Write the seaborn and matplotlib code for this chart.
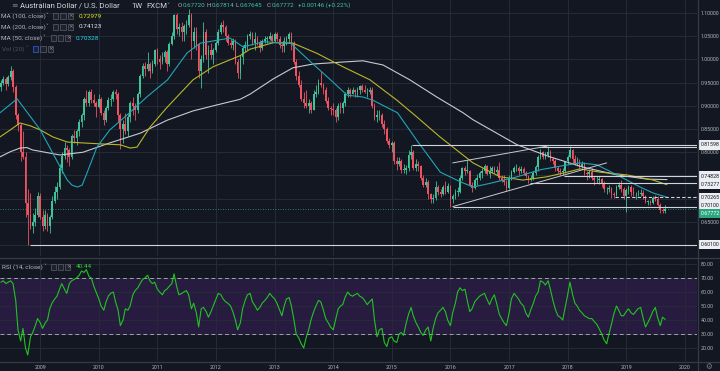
import numpy as np
import pandas as pd
import matplotlib
matplotlib.use("Agg")
import matplotlib.pyplot as plt
import matplotlib.dates as mdates
from matplotlib.patches import Rectangle
from matplotlib.lines import Line2D
from matplotlib.transforms import blended_transform_factory
import seaborn as sns

# ---------------- data (AUD/USD, half-month candles from May 2008) ----------------
first_open = 0.940
close_2008 = [0.950, 0.957, 0.947, 0.962, 0.975, 0.940, 0.880, 0.858, 0.800, 0.790, 0.690, 0.665, 0.640, 0.650, 0.665, 0.705]
high_2008 = [0.956, 0.965, 0.962, 0.966, 0.985, 0.980, 0.944, 0.885, 0.862, 0.845, 0.800, 0.720, 0.712, 0.670, 0.680, 0.715]
low_2008 = [0.932, 0.945, 0.935, 0.942, 0.955, 0.930, 0.872, 0.845, 0.780, 0.785, 0.660, 0.601, 0.635, 0.625, 0.640, 0.660]

close_2009 = [0.660, 0.640, 0.665, 0.640, 0.660, 0.695, 0.715, 0.725, 0.765, 0.792, 0.810, 0.805,
              0.790, 0.835, 0.830, 0.845, 0.865, 0.880, 0.915, 0.905, 0.930, 0.912, 0.905, 0.897]
high_2009 = [0.712, 0.675, 0.675, 0.670, 0.665, 0.705, 0.728, 0.735, 0.775, 0.800, 0.822, 0.815,
             0.810, 0.840, 0.848, 0.850, 0.872, 0.885, 0.920, 0.933, 0.935, 0.937, 0.925, 0.910]
low_2009 = [0.655, 0.630, 0.635, 0.630, 0.625, 0.655, 0.690, 0.700, 0.720, 0.755, 0.785, 0.778,
            0.770, 0.785, 0.820, 0.815, 0.835, 0.855, 0.870, 0.900, 0.900, 0.905, 0.900, 0.876]

close_2010 = [0.915, 0.885, 0.870, 0.895, 0.912, 0.915, 0.930, 0.925, 0.880, 0.850, 0.860, 0.845,
              0.875, 0.905, 0.900, 0.890, 0.925, 0.965, 0.985, 0.980, 0.990, 0.975, 0.990, 1.020]
high_2010 = [0.925, 0.918, 0.890, 0.900, 0.918, 0.925, 0.935, 0.936, 0.930, 0.885, 0.870, 0.885,
             0.882, 0.910, 0.920, 0.905, 0.930, 0.968, 0.993, 0.995, 1.017, 0.995, 0.998, 1.023]
low_2010 = [0.895, 0.880, 0.858, 0.865, 0.890, 0.900, 0.910, 0.915, 0.865, 0.807, 0.820, 0.840,
            0.835, 0.865, 0.880, 0.870, 0.885, 0.920, 0.960, 0.965, 0.975, 0.960, 0.970, 0.985]

close_2011 = [1.000, 0.995, 1.005, 1.015, 0.990, 1.033, 1.050, 1.095, 1.065, 1.070, 1.060, 1.072,
              1.075, 1.095, 1.040, 1.060, 1.030, 0.975, 1.000, 1.060, 1.010, 1.020, 1.010, 1.020]
high_2011 = [1.025, 1.010, 1.015, 1.020, 1.020, 1.037, 1.060, 1.098, 1.101, 1.078, 1.080, 1.077,
             1.085, 1.108, 1.100, 1.070, 1.070, 1.035, 1.010, 1.080, 1.065, 1.030, 1.035, 1.025]
low_2011 = [0.990, 0.980, 0.990, 0.995, 0.975, 0.985, 1.030, 1.045, 1.055, 1.050, 1.040, 1.040,
            1.055, 1.070, 1.000, 1.025, 1.020, 0.960, 0.939, 0.995, 1.000, 0.970, 1.000, 0.990]

close_2012 = [1.035, 1.060, 1.075, 1.070, 1.050, 1.035, 1.030, 1.040, 0.995, 0.970, 1.005, 1.025,
              1.030, 1.050, 1.055, 1.035, 1.045, 1.038, 1.025, 1.040, 1.045, 1.045, 1.050, 1.040]
high_2012 = [1.040, 1.065, 1.080, 1.085, 1.075, 1.055, 1.045, 1.047, 1.045, 1.000, 1.010, 1.030,
             1.040, 1.055, 1.062, 1.060, 1.060, 1.050, 1.042, 1.045, 1.050, 1.050, 1.058, 1.055]
low_2012 = [1.015, 1.030, 1.055, 1.060, 1.040, 1.030, 1.025, 1.020, 0.990, 0.960, 0.958, 0.990,
            1.015, 1.020, 1.045, 1.030, 1.020, 1.030, 1.015, 1.020, 1.035, 1.035, 1.042, 1.035]

close_2013 = [1.055, 1.045, 1.030, 1.028, 1.040, 1.045, 1.055, 1.035, 0.995, 0.965, 0.945, 0.915,
              0.905, 0.900, 0.905, 0.890, 0.925, 0.930, 0.950, 0.945, 0.935, 0.910, 0.895, 0.893]
high_2013 = [1.060, 1.060, 1.050, 1.035, 1.048, 1.050, 1.060, 1.058, 1.040, 1.000, 0.975, 0.955,
             0.930, 0.935, 0.915, 0.910, 0.935, 0.945, 0.958, 0.976, 0.950, 0.940, 0.920, 0.900]
low_2013 = [1.038, 1.040, 1.025, 1.015, 1.015, 1.030, 1.035, 1.020, 0.990, 0.955, 0.940, 0.910,
            0.895, 0.895, 0.885, 0.885, 0.890, 0.920, 0.925, 0.940, 0.925, 0.905, 0.890, 0.880]

close_2014 = [0.890, 0.875, 0.900, 0.895, 0.905, 0.925, 0.935, 0.925, 0.935, 0.930, 0.935, 0.942,
              0.935, 0.930, 0.930, 0.933, 0.900, 0.875, 0.880, 0.880, 0.860, 0.850, 0.825, 0.815]
high_2014 = [0.905, 0.895, 0.905, 0.908, 0.910, 0.930, 0.940, 0.938, 0.940, 0.936, 0.940, 0.945,
             0.948, 0.945, 0.938, 0.940, 0.940, 0.905, 0.890, 0.890, 0.885, 0.870, 0.855, 0.830]
low_2014 = [0.880, 0.866, 0.870, 0.885, 0.885, 0.900, 0.920, 0.920, 0.925, 0.918, 0.920, 0.925,
            0.930, 0.928, 0.920, 0.925, 0.895, 0.870, 0.865, 0.870, 0.855, 0.840, 0.820, 0.810]

close_2015 = [0.820, 0.780, 0.775, 0.782, 0.762, 0.762, 0.765, 0.795, 0.800, 0.765, 0.775, 0.770,
              0.745, 0.730, 0.735, 0.710, 0.700, 0.702, 0.725, 0.714, 0.710, 0.725, 0.715, 0.728]
high_2015 = [0.825, 0.825, 0.790, 0.790, 0.785, 0.775, 0.772, 0.805, 0.816, 0.805, 0.785, 0.780,
             0.772, 0.750, 0.745, 0.740, 0.712, 0.710, 0.738, 0.730, 0.720, 0.730, 0.738, 0.733]
low_2015 = [0.800, 0.775, 0.762, 0.770, 0.755, 0.756, 0.753, 0.760, 0.785, 0.762, 0.760, 0.760,
            0.740, 0.725, 0.725, 0.700, 0.690, 0.690, 0.698, 0.708, 0.703, 0.708, 0.710, 0.712]

close_2016 = [0.700, 0.705, 0.715, 0.715, 0.745, 0.765, 0.760, 0.760, 0.730, 0.723, 0.740, 0.745,
              0.755, 0.760, 0.770, 0.752, 0.760, 0.765, 0.758, 0.762, 0.745, 0.740, 0.735, 0.722]
high_2016 = [0.730, 0.710, 0.720, 0.725, 0.750, 0.768, 0.770, 0.783, 0.762, 0.735, 0.745, 0.752,
             0.760, 0.765, 0.775, 0.772, 0.770, 0.770, 0.770, 0.770, 0.778, 0.750, 0.750, 0.740]
low_2016 = [0.683, 0.690, 0.700, 0.705, 0.712, 0.740, 0.750, 0.755, 0.728, 0.715, 0.720, 0.730,
            0.740, 0.745, 0.755, 0.750, 0.745, 0.755, 0.755, 0.750, 0.740, 0.735, 0.730, 0.716]

close_2017 = [0.745, 0.758, 0.765, 0.765, 0.760, 0.763, 0.755, 0.748, 0.740, 0.745, 0.755, 0.768,
              0.790, 0.800, 0.790, 0.795, 0.800, 0.785, 0.780, 0.765, 0.760, 0.757, 0.760, 0.780]
high_2017 = [0.750, 0.762, 0.770, 0.775, 0.770, 0.770, 0.768, 0.760, 0.750, 0.750, 0.760, 0.772,
             0.795, 0.806, 0.802, 0.800, 0.813, 0.805, 0.790, 0.785, 0.770, 0.765, 0.765, 0.782]
low_2017 = [0.720, 0.740, 0.755, 0.760, 0.750, 0.755, 0.750, 0.745, 0.733, 0.738, 0.740, 0.750,
            0.760, 0.785, 0.785, 0.785, 0.790, 0.780, 0.775, 0.760, 0.755, 0.750, 0.750, 0.755]

close_2018 = [0.790, 0.805, 0.785, 0.775, 0.775, 0.768, 0.775, 0.755, 0.753, 0.757, 0.745, 0.740,
              0.740, 0.742, 0.732, 0.720, 0.720, 0.722, 0.710, 0.708, 0.725, 0.730, 0.720, 0.705]
high_2018 = [0.795, 0.814, 0.808, 0.795, 0.790, 0.785, 0.780, 0.778, 0.760, 0.762, 0.765, 0.748,
             0.748, 0.748, 0.745, 0.738, 0.725, 0.730, 0.725, 0.715, 0.730, 0.735, 0.740, 0.725]
low_2018 = [0.775, 0.788, 0.775, 0.772, 0.770, 0.764, 0.765, 0.750, 0.741, 0.745, 0.740, 0.730,
            0.733, 0.732, 0.725, 0.715, 0.710, 0.715, 0.702, 0.702, 0.705, 0.720, 0.715, 0.700]

close_2019 = [0.718, 0.726, 0.715, 0.710, 0.710, 0.710, 0.713, 0.705, 0.692, 0.694, 0.690, 0.702,
              0.700, 0.687, 0.675, 0.673, 0.6777]
high_2019 = [0.722, 0.730, 0.730, 0.725, 0.715, 0.718, 0.720, 0.718, 0.708, 0.698, 0.698, 0.705,
             0.708, 0.705, 0.690, 0.680, 0.686]
low_2019 = [0.671, 0.710, 0.705, 0.705, 0.700, 0.705, 0.705, 0.700, 0.690, 0.686, 0.686, 0.688,
            0.695, 0.685, 0.668, 0.668, 0.670]

rsi_values = [
    67, 68, 66, 67, 68, 66, 54, 33, 25, 34, 20, 15,
    28, 31, 36, 41, 38, 34, 38, 40, 48, 52, 55, 57,
    62, 66, 62, 59, 66, 68, 69, 70, 72, 75, 74, 76,
    71, 70, 64, 60, 55, 50, 47, 53, 57, 59, 60, 53,
    47, 36, 40, 48, 47, 50, 58, 61, 63, 66, 69, 70,
    72, 68, 66, 67, 62, 60, 58, 61, 62, 64, 66, 73,
    64, 58, 59, 60, 61, 58, 48, 52, 45, 35, 48, 49,
    46, 42, 46, 50, 55, 59, 58, 55, 53, 52, 50, 46,
    40, 33, 38, 48, 54, 58, 59, 53, 50, 47, 49, 52,
    54, 56, 59, 57, 55, 52, 47, 43, 50, 55, 56, 50,
    40, 30, 27, 23, 20, 27, 33, 40, 46, 50, 54, 53,
    47, 41, 38, 35, 33, 40, 48, 50, 51, 56, 60, 58,
    57, 58, 59, 57, 56, 54, 51, 53, 55, 40, 28, 33,
    34, 24, 21, 27, 28, 25, 24, 30, 31, 29, 38, 44,
    49, 43, 38, 35, 31, 29, 33, 35, 25, 34, 41, 45,
    47, 49, 46, 40, 36, 45, 52, 60, 63, 61, 62, 54,
    46, 48, 53, 55, 57, 58, 59, 55, 51, 55, 58, 52,
    44, 41, 38, 36, 45, 55, 59, 57, 55, 52, 50, 45,
    42, 47, 52, 57, 60, 68, 67, 65, 68, 62, 54, 48,
    43, 42, 40, 48, 58, 67, 58, 52, 50, 47, 45, 43,
    42, 41, 41, 39, 37, 34, 30, 26, 23, 30, 37, 44,
    50, 47, 43, 43, 46, 48, 45, 44, 46, 48, 49, 42,
    35, 38, 42, 46, 49, 42, 36, 42, 40.44]

# moving averages
ma50_dates = ['2008-04-25', '2008-08-10', '2009-01-01', '2009-06-18', '2009-07-18', '2009-08-20',
              '2009-09-19', '2009-10-19', '2009-12-20',
              '2010-03-10', '2010-06-25', '2010-10-30', '2011-03-05', '2011-07-05', '2011-09-25',
              '2012-03-28', '2012-06-18', '2012-10-25', '2013-04-10', '2013-08-28', '2013-12-15',
              '2014-03-28', '2014-07-05', '2014-09-05', '2015-02-05', '2015-06-05', '2015-10-30',
              '2016-03-05', '2016-05-22', '2016-09-05', '2017-02-20', '2017-07-12', '2017-11-15',
              '2018-03-18', '2018-07-01', '2018-11-05', '2019-03-28', '2019-06-18', '2019-09-12']
ma50_values = [0.885, 0.915, 0.848, 0.740, 0.729, 0.725, 0.729, 0.755, 0.811,
               0.848, 0.880, 0.920, 0.956, 1.014, 1.035,
               1.046, 1.027, 1.038, 1.035, 0.990, 0.956, 0.923, 0.919, 0.912, 0.885, 0.826, 0.757,
               0.736, 0.725, 0.733, 0.747, 0.762, 0.770, 0.777, 0.773, 0.751, 0.725, 0.712, 0.703]

ma100_dates = ['2008-04-25', '2008-06-28', '2008-08-28', '2008-10-30', '2009-01-01', '2009-03-20',
               '2009-06-18', '2009-09-25', '2010-01-08', '2010-05-14',
               '2010-07-15', '2010-08-27', '2010-11-16', '2011-03-03', '2011-08-11', '2011-12-13',
               '2012-05-30', '2012-07-31', '2012-12-23', '2013-04-25', '2013-09-22', '2014-03-03',
               '2014-08-18', '2015-02-02', '2015-06-06', '2015-10-28', '2016-05-21', '2016-11-05',
               '2017-03-28', '2017-08-24', '2017-12-28', '2018-03-18', '2018-07-22', '2019-01-07',
               '2019-06-17', '2019-09-12']
ma100_values = [0.833, 0.848, 0.863, 0.857, 0.848, 0.833, 0.822, 0.820, 0.818, 0.816,
                0.809, 0.811, 0.854, 0.897, 0.956, 0.984,
                1.008, 1.022, 1.036, 1.035, 1.013, 0.984, 0.956, 0.912, 0.876, 0.833, 0.777, 0.747,
                0.740, 0.747, 0.757, 0.764, 0.757, 0.751, 0.740, 0.730]

ma200_dates = ['2008-04-25', '2008-06-28', '2008-08-28', '2008-10-10', '2008-11-12', '2009-02-15',
               '2009-05-04', '2009-07-15', '2009-09-25', '2010-03-10',
               '2010-09-16', '2011-03-03', '2011-08-11', '2012-01-08', '2012-05-30', '2012-07-31',
               '2012-12-23', '2013-04-25', '2013-08-28', '2014-02-14', '2014-07-05', '2014-11-07',
               '2015-04-23', '2015-10-08', '2016-03-20', '2016-05-21', '2017-02-20', '2017-09-13',
               '2018-04-06', '2018-11-05', '2019-05-12', '2019-09-12']
ma200_values = [0.790, 0.801, 0.809, 0.810, 0.805, 0.799, 0.794, 0.797, 0.800, 0.820,
                0.841, 0.869, 0.889, 0.902, 0.914, 0.925,
                0.958, 0.982, 0.990, 0.994, 0.997, 0.988, 0.956, 0.919, 0.885, 0.870, 0.816, 0.790,
                0.768, 0.751, 0.742, 0.741]

# drawn levels / trend lines
hline_levels = [0.81598, 0.8105, 0.74828, 0.73277, 0.70265, 0.6827, 0.60100]
hline_starts = ['2015-05-08', '2017-07-01', '2017-12-08', '2017-05-09', '2018-10-26', '2016-01-15', '2008-10-27']
hline_dashed = [False, False, False, False, True, False, False]
trend_lines = [(('2016-01-15', 0.6827), ('2018-09-01', 0.777)),
               (('2016-01-15', 0.777), ('2017-08-25', 0.813))]
axis_label_values = [0.81598, 0.74828, 0.73277, 0.70265, 0.70100, 0.67772, 0.60100]
last_price = 0.67772

ohlc_text = ['0.67720', '0.67814', '0.67645', '0.67772']
ma_legend = [('MA (100, close)', '0.72979'), ('MA (200, close)', '0.74123'), ('MA (50, close)', '0.70328')]
rsi_last = '40.44'
years = list(range(2009, 2021))

# ---------------- style ----------------
BG = '#131722'
GRID = '#262b38'
UP = '#3fc49a'
DN = '#ef5361'
TXT = '#b2b5be'
C50, C100, C200 = '#1fa6b8', '#b9b72a', '#c8cad0'
AXFS = 3.8

sns.set_theme(style='dark', rc={'axes.facecolor': BG, 'figure.facecolor': BG})
plt.rcParams['font.family'] = ['Roboto', 'DejaVu Sans']

W, H = 720, 371
fig = plt.figure(figsize=(W / 100, H / 100), dpi=100, facecolor=BG)


def px_axes(x0, y0, x1, y1):
    return fig.add_axes([x0 / W, 1 - y1 / H, (x1 - x0) / W, (y1 - y0) / H])


ax = px_axes(0, 0, 697, 256)
axr = px_axes(0, 259, 697, 361)

closes = close_2008 + close_2009 + close_2010 + close_2011 + close_2012 + close_2013 + close_2014 + \
    close_2015 + close_2016 + close_2017 + close_2018 + close_2019
highs = high_2008 + high_2009 + high_2010 + high_2011 + high_2012 + high_2013 + high_2014 + \
    high_2015 + high_2016 + high_2017 + high_2018 + high_2019
lows = low_2008 + low_2009 + low_2010 + low_2011 + low_2012 + low_2013 + low_2014 + \
    low_2015 + low_2016 + low_2017 + low_2018 + low_2019
opens = [first_open] + closes[:-1]
dates = pd.date_range('2008-05-01', periods=len(closes), freq='SMS')
df = pd.DataFrame(dict(x=mdates.date2num(dates), open=opens, high=highs, low=lows, close=closes))
df['up'] = df['close'] >= df['open']
cols = np.where(df['up'], UP, DN)

x0 = mdates.date2num(pd.Timestamp('2008-04-25'))
x1 = mdates.date2num(pd.Timestamp('2020-03-17'))
year_x = [mdates.date2num(pd.Timestamp(f'{y}-01-01')) for y in years]

for a in (ax, axr):
    a.set_facecolor(BG)
    a.set_xlim(x0, x1)
    a.set_xticks(year_x)
    for s in a.spines.values():
        s.set_visible(False)
    a.grid(True, color=GRID, lw=0.7)
    a.set_axisbelow(True)
    a.yaxis.tick_right()
    a.tick_params(axis='y', length=0, pad=2.4, labelsize=AXFS, labelcolor=TXT)

# main pane
ax.set_ylim(0.57634, 1.12802)
ticks = list(np.round(np.arange(0.60, 1.1001, 0.05), 2))
ax.set_yticks(ticks)

ax.axhline(last_price, color='#2fa37f', ls=(0, (1, 2)), lw=0.6, zorder=1)

ax.vlines(df['x'], df['low'], df['high'], colors=cols, lw=0.6, zorder=3)
body = (df['close'] - df['open']).abs().clip(lower=0.0008)
ax.bar(df['x'], body, bottom=np.minimum(df['open'], df['close']), width=10.5, color=cols,
       linewidth=0, zorder=4)

for dts, vals, c in ((ma200_dates, ma200_values, C200), (ma100_dates, ma100_values, C100),
                     (ma50_dates, ma50_values, C50)):
    sns.lineplot(x=mdates.date2num(pd.to_datetime(dts)), y=vals, ax=ax, color=c, lw=0.8, zorder=5)

for lvl, st, dsh in zip(hline_levels, hline_starts, hline_dashed):
    ax.hlines(lvl, mdates.date2num(pd.Timestamp(st)), x1, colors='#d1d4dc', lw=0.8,
              linestyles=(0, (3, 2)) if dsh else 'solid', zorder=6)
for (d0, p0), (d1, p1) in trend_lines:
    ax.plot([mdates.date2num(pd.Timestamp(d0)), mdates.date2num(pd.Timestamp(d1))], [p0, p1],
            color='#c8cad0', lw=0.7, zorder=6)
ax.set_xlabel('')
ax.set_ylabel('')
ax.tick_params(axis='x', length=0, labelbottom=False)

# axis label boxes with overlap pushing
trans = blended_transform_factory(ax.transAxes, ax.transData)
ys = [ax.transData.transform((0, v))[1] for v in axis_label_values]
placed = []
for v, y in sorted(zip(axis_label_values, ys), key=lambda t: -t[0]):
    if placed and placed[-1] - y < 8.0:
        y = placed[-1] - 8.0
    placed.append(y)
    yd = ax.transData.inverted().transform((0, y))[1]
    green = abs(v - last_price) < 1e-9
    ax.text(1 + 3.6 / 697, yd, f'{v:.5f}', transform=trans, ha='left', va='center', fontsize=AXFS,
            color='white' if green else '#131722', clip_on=False, zorder=20,
            bbox=dict(boxstyle='square,pad=0.45', fc='#2aa77e' if green else '#eceef2', ec='none'))

# plain tick labels, hidden where a label box sits on them
tick_lbls = []
for t in ticks:
    ty = ax.transData.transform((0, t))[1]
    hidden = any(abs(ty - p) < 6.0 for p in placed)
    tick_lbls.append('' if hidden else f'{t:.5f}')
ax.set_yticklabels(tick_lbls)

# RSI pane
axr.set_ylim(10.71, 83.57)
axr.set_yticks(range(20, 81, 10))
axr.set_yticklabels([f'{v:.2f}' for v in range(20, 81, 10)])
axr.axhspan(30, 70, color='#271b40', zorder=0.5, lw=0)
for lv in (70, 30):
    axr.axhline(lv, color='#a0a3ab', lw=0.7, ls=(0, (4, 3)), zorder=1)
sns.lineplot(x=df['x'], y=rsi_values, ax=axr, color='#22c322', lw=0.8, zorder=5)
axr.set_xticklabels([str(y) for y in years])
axr.tick_params(axis='x', length=0, pad=2.8, labelsize=AXFS, labelcolor=TXT)
axr.set_xlabel('')
axr.set_ylabel('')

# separators
for yy in (257.5, 361.5):
    fig.add_artist(Line2D([0, 1], [1 - yy / H, 1 - yy / H], color='#363a45', lw=0.9))
fig.add_artist(Line2D([697.5 / W, 697.5 / W], [0, 1], color='#363a45', lw=0.9))


# ---------------- header texts ----------------
def ftxt(x, y, s, **kw):
    kw.setdefault('fontsize', 4.6)
    kw.setdefault('color', TXT)
    fig.text(x / W, 1 - y / H, s, va='center', ha='left', **kw)


def icon_boxes(x, y, first_blue=False):
    for i in range(3):
        ec = '#2962ff' if (first_blue and i == 0) else '#5d606b'
        fig.add_artist(Rectangle(((x + i * 7.3) / W, 1 - (y + 2.6) / H), 5.2 / W, 5.2 / H,
                                 transform=fig.transFigure, fc='#1e222d', ec=ec, lw=0.5))
        if i == 2:
            ftxt(x + i * 7.3 + 0.9, y - 0.1, '×', fontsize=4.0, color='#9598a1', family=['DejaVu Sans'])


ftxt(11, 5.5, '≡', fontsize=5.5, color='#787b86', family=['DejaVu Sans'])
ftxt(20, 5.5, 'Australian Dollar / U.S. Dollar', fontsize=5.6, color='#d1d4dc')
ftxt(131, 5.5, '1W', fontsize=5.6, color='#d1d4dc')
ftxt(146, 5.5, 'FXCM', fontsize=5.6, color='#d1d4dc')
ftxt(166, 5.0, '˅', fontsize=4.5, color='#9598a1', family=['DejaVu Sans'])
for xl, xv, lab, val in ((178, 183, 'O', ohlc_text[0]), (207, 212, 'H', ohlc_text[1]),
                         (235, 240, 'L', ohlc_text[2]), (267, 272, 'C', ohlc_text[3])):
    ftxt(xl, 5.5, lab, fontsize=4.5, color=TXT)
    ftxt(xv, 5.5, val, fontsize=4.5, color='#3fc49a')
ftxt(298, 5.5, '+0.00146 (+0.22%)', fontsize=4.5, color='#3fc49a')

ma_cols = ['#e6e61c', '#e6e6e6', '#2ad4e6']
for i, ((lab, val), vc) in enumerate(zip(ma_legend, ma_cols)):
    yy = 16 + i * 11
    narrow = (i == 2)
    ftxt(1, yy, lab, color=TXT)
    ftxt(42 if narrow else 45, yy - 0.5, '˅', fontsize=4.0, color='#9598a1', family=['DejaVu Sans'])
    icon_boxes(50.5 if narrow else 53, yy)
    ftxt(76 if narrow else 79, yy, val, color=vc)
ftxt(2, 49, 'Vol (20)', color='#50535e')
ftxt(25, 48.5, '˅', fontsize=4.0, color='#50535e', family=['DejaVu Sans'])
icon_boxes(33, 49, first_blue=True)

ftxt(2, 267, 'RSI (14, close)', color=TXT)
ftxt(43, 266.5, '˅', fontsize=4.0, color='#9598a1', family=['DejaVu Sans'])
icon_boxes(50.5, 267)
ftxt(76, 267, rsi_last, color='#30d030')

ftxt(705, 366, '⚙', fontsize=5.5, color='#787b86', family=['DejaVu Sans'])

fig.savefig('out.png', dpi=100, facecolor=BG)
